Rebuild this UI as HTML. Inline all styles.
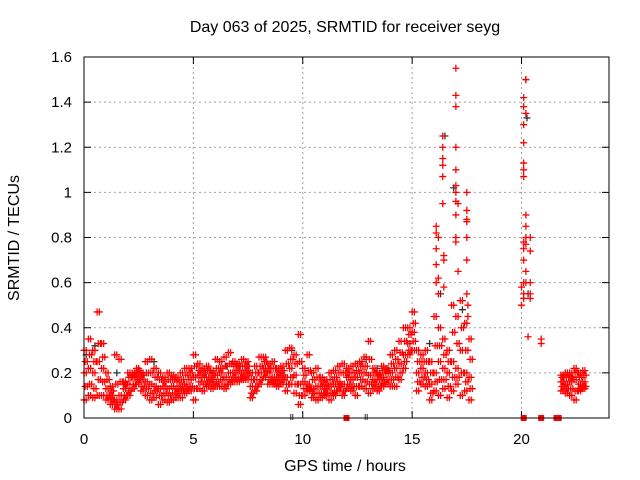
<!DOCTYPE html>
<html><head><meta charset="utf-8"><style>
html,body{margin:0;padding:0;background:#fff}
svg{display:block;font-family:"Liberation Sans",sans-serif}
</style></head><body>
<svg id="c" width="640" height="480">
<rect width="640" height="480" fill="#fff"/>
<text x="345" y="32" font-size="16" text-anchor="middle">Day 063 of 2025, SRMTID for receiver seyg</text>
<text x="345" y="471" font-size="16" text-anchor="middle">GPS time / hours</text>
<text transform="translate(19,238) rotate(-90)" font-size="16" text-anchor="middle">SRMTID / TECUs</text>
<g id="grid"></g><g id="marks"></g>
<rect x="84" y="57" width="525" height="361" fill="none" stroke="#000" stroke-width="1"/>
</svg>
<script>
const xTicks=[0,5,10,15,20];
const yTicks=[0,0.2,0.4,0.6,0.8,1,1.2,1.4,1.6];
const yTickLabels=["0","0.2","0.4","0.6","0.8","1","1.2","1.4","1.6"];
const bandT=[0,0.2,0.4,0.6,0.8,1.0,1.2,1.4,1.6,1.8,2.0,2.2,2.4,2.6,2.8,3.0,3.2,3.4,3.6,3.8,4.0,4.2,4.4,4.6,4.8,5.0,5.2,5.4,5.6,5.8,6.0,6.2,6.4,6.6,6.8,7.0,7.2,7.4,7.6,7.8,8.0,8.2,8.4,8.6,8.8,9.0,9.2,9.4,9.6,9.8,10.0,10.2,10.4,10.6,10.8,11.0,11.2,11.4,11.6,11.8,12.0,12.2,12.4,12.6,12.8,13.0,13.2,13.4,13.6,13.8,14.0,14.2,14.4,14.6,14.8,15.0,15.2,15.4,15.6,15.8,16.0,16.2,16.4,16.6,16.8,17.0,17.2,17.4,17.6,21.8,22.0,22.2,22.4,22.6,22.8];
const bandLo=[.08,.1,.09,.1,.1,.08,.06,.04,.04,.08,.1,.13,.15,.12,.1,.08,.09,.06,.08,.07,.08,.09,.09,.11,.12,.08,.13,.12,.14,.13,.14,.14,.13,.15,.16,.16,.17,.17,.09,.12,.15,.18,.15,.15,.14,.15,.12,.15,.11,.06,.1,.12,.09,.08,.09,.1,.08,.1,.12,.1,.13,.12,.1,.14,.13,.11,.13,.12,.14,.15,.14,.14,.17,.22,.28,.3,.12,.15,.14,.08,.12,.1,.13,.09,.12,.15,.1,.12,.08,.12,.11,.1,.08,.12,.13];
const bandA=[.14,.15,.13,.17,.16,.1,.08,.06,.07,.1,.12,.15,.17,.14,.13,.11,.12,.1,.11,.1,.11,.11,.12,.13,.14,.13,.16,.15,.16,.15,.16,.17,.15,.17,.18,.18,.18,.19,.11,.14,.17,.2,.17,.16,.16,.17,.15,.18,.15,.1,.13,.13,.11,.11,.11,.11,.11,.12,.14,.12,.15,.14,.14,.17,.16,.15,.15,.14,.16,.17,.17,.18,.2,.25,.3,.34,.16,.18,.17,.11,.16,.17,.17,.14,.18,.18,.2,.16,.13,.14,.13,.13,.12,.13,.14];
const bandMid=[.2,.22,.2,.25,.22,.13,.1,.08,.1,.13,.15,.18,.19,.17,.16,.15,.14,.13,.14,.13,.14,.13,.14,.15,.17,.18,.19,.18,.18,.17,.19,.2,.18,.2,.2,.21,.2,.21,.14,.17,.2,.22,.2,.18,.18,.19,.18,.22,.19,.15,.16,.15,.13,.14,.14,.13,.14,.15,.16,.15,.18,.17,.18,.2,.2,.19,.17,.17,.18,.2,.2,.22,.24,.28,.33,.38,.2,.22,.2,.15,.2,.25,.22,.2,.25,.22,.3,.2,.18,.16,.15,.16,.17,.15,.16];
const bandB=[.25,.28,.25,.33,.27,.17,.12,.15,.16,.15,.18,.19,.21,.19,.2,.2,.18,.17,.16,.17,.17,.16,.17,.19,.2,.23,.21,.2,.21,.19,.22,.22,.23,.24,.23,.23,.23,.23,.17,.2,.23,.25,.22,.22,.2,.21,.24,.26,.24,.25,.19,.21,.17,.18,.16,.15,.17,.18,.2,.2,.2,.2,.21,.23,.23,.26,.2,.19,.21,.21,.24,.26,.29,.34,.37,.42,.25,.25,.25,.2,.32,.32,.28,.25,.38,.33,.4,.3,.26,.18,.18,.18,.2,.18,.19];
const bandHi=[.3,.35,.3,.47,.33,.2,.14,.28,.26,.16,.2,.2,.22,.2,.25,.26,.22,.2,.18,.2,.19,.18,.2,.22,.22,.28,.24,.22,.23,.21,.26,.25,.27,.29,.25,.24,.26,.25,.2,.23,.27,.27,.24,.25,.22,.23,.3,.31,.28,.37,.22,.28,.2,.22,.18,.17,.2,.21,.23,.24,.22,.23,.24,.25,.27,.34,.22,.2,.23,.22,.28,.3,.34,.4,.4,.47,.3,.28,.3,.25,.45,.4,.35,.3,.5,.45,.52,.42,.35,.19,.2,.2,.22,.2,.21];
const spikeT=[16.1,16.1,16.1,16.1,16.1,16.2,16.2,16.2,16.4,16.4,16.4,16.4,16.4,16.4,16.45,16.45,16.45,17.0,17.0,17.0,17.0,17.0,17.0,17.0,17.0,17.0,17.0,17.0,17.1,17.1,17.5,17.5,17.5,17.5,17.5,17.5,17.5,17.55,17.55,20.1,20.1,20.1,20.1,20.1,20.1,20.1,20.1,20.1,20.1,20.1,20.1,20.1,20.2,20.2,20.2,20.2,20.2,20.2,20.2,20.2,20.4,20.4,20.4,20.4,20.4,20.3,20.0,20.0,20.9,20.9];
const spikeV=[.82,.85,.75,.68,.6,.62,.55,.8,.95,1.12,1.2,1.25,1.15,1.07,.72,.7,.58,.96,1.0,1.03,1.43,1.38,1.55,1.2,1.1,.9,.78,.8,.95,.65,1.0,.92,.87,.8,.88,.7,.55,.5,.45,1.42,1.38,1.3,1.22,1.07,1.13,1.1,.78,.75,.7,.6,.55,.53,1.5,1.35,.9,.85,.8,.77,.65,.6,.8,.74,.6,.55,.53,.36,.5,.58,.33,.35];
const blackT=[0.1,0.5,1.5,3.2,6.5,9.5,12.9,13.4,15.8,16.3,16.5,16.9,17.3,20.2,20.25,20.3,22.3];
const blackV=[.28,.32,.2,.25,.23,.3,.26,.22,.33,.55,1.25,1.02,.48,1.5,1.33,.55,.18];
const zeroRedT=[12.0,20.1,20.9,21.6,21.7];
const zeroBlackT=[9.5,12.9];
const X=t=>84+t*525/24, Y=v=>418-v*361/1.6;
const NS='http://www.w3.org/2000/svg';
const grid=document.getElementById('grid'), marks=document.getElementById('marks'), svg=document.getElementById('c');
function mk(tag,at,parent){const e=document.createElementNS(NS,tag);for(const k in at)e.setAttribute(k,at[k]);parent.appendChild(e);return e;}
xTicks.forEach(t=>{
 const x=X(t);
 if(t>0){const g=mk('line',{x1:x,y1:57,x2:x,y2:418,stroke:'#a0a0a0','stroke-dasharray':'2,3'},grid);
 
 }
 mk('line',{x1:x,y1:418,x2:x,y2:411,stroke:'#000'},grid);
 mk('line',{x1:x,y1:57,x2:x,y2:64,stroke:'#000'},grid);
 const l=mk('text',{x:x,y:444,'font-size':15,'text-anchor':'middle'},svg);l.textContent=t;
 
 
});
yTicks.forEach((v,i)=>{
 const y=Y(v);
 if(v>0&&v<1.6){const g=mk('line',{x1:84,y1:y,x2:609,y2:y,stroke:'#a0a0a0','stroke-dasharray':'2,3'},grid);
 
 }
 mk('line',{x1:84,y1:y,x2:91,y2:y,stroke:'#000'},grid);
 mk('line',{x1:609,y1:y,x2:602,y2:y,stroke:'#000'},grid);
 const l=mk('text',{x:72,y:y+5,'font-size':15,'text-anchor':'end'},svg);l.textContent=yTickLabels[i];
 
 
});
function plus(t,v,col){const x=X(t),y=Y(v);
 const p=mk('path',{d:`M${x-3.5},${y}h7M${x},${y-3.5}v7`,stroke:col,'stroke-width':1.3,fill:'none'},marks);
 
 }
blackT.forEach((t,i)=>plus(t,blackV[i],'#333'));
bandT.forEach((t,i)=>{
 [0,0.1].forEach(dt=>{plus(t+dt,bandLo[i],'#f00');plus(t+dt,bandMid[i],'#f00');plus(t+dt,bandHi[i],'#f00');});
 [0.05,0.15].forEach(dt=>{plus(t+dt,bandA[i],'#f00');plus(t+dt,bandB[i],'#f00');});
});
spikeT.forEach((t,i)=>plus(t,spikeV[i],'#f00'));
zeroRedT.forEach(t=>{const r=mk('rect',{x:X(t)-3,y:415,width:6,height:6,fill:'#f00'},marks);
 
 });
zeroBlackT.forEach(t=>{const r=mk('path',{d:`M${X(t)-1},414v6M${X(t)+1},414v6`,stroke:'#333'},marks);
 
 });
</script>
</body></html>
